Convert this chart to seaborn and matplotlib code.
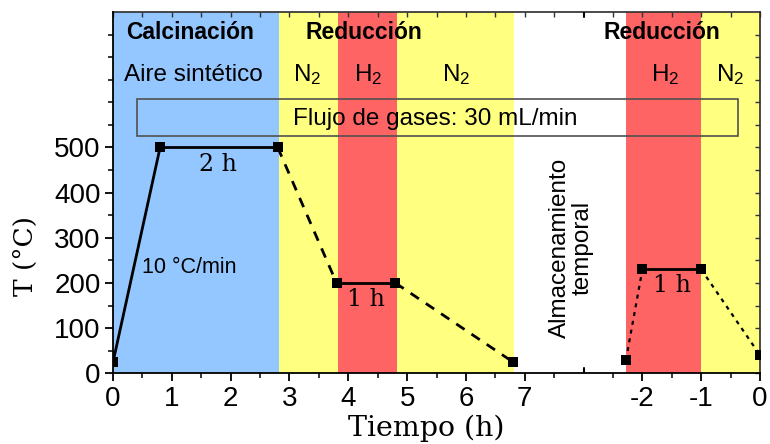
import matplotlib
matplotlib.use("Agg")
import matplotlib.pyplot as plt
import matplotlib.patches as mpatches
import seaborn as sns

# Thermal program: time (h) and temperature (°C) at each step
time_h = [0.0, 0.8, 2.8, 3.8, 4.8, 6.8, 8.72, 9.0, 10.0, 11.0]
temp_c = [25, 500, 500, 200, 200, 25, 30, 230, 230, 40]
# line style of the segment joining point i and point i+1 (None = no line)
segment_style = ["solid", "solid", "dashed", "solid", "dashed", None, "dotted", "solid", "dotted"]

# Gas atmosphere bands
band_edges = [0.0, 2.82, 3.82, 4.82, 6.82, 8.72, 10.0, 11.0]
band_colors = ["#94C6FF", "#FFFF80", "#FF6464", "#FFFF80", "#FFFFFF", "#FF6464", "#FFFF80"]

# Stage headers and gas labels
stage_labels = ["Calcinación", "Reducción", "Reducción"]
stage_x = [1.31, 4.27, 9.33]
gas_labels = ["Aire sintético", r"N$_2$", r"H$_2$", r"N$_2$", r"H$_2$", r"N$_2$"]
gas_x = [1.37, 3.30, 4.33, 5.83, 9.38, 10.50]

# Dwell annotations
dwell_labels = ["2 h", "1 h", "1 h"]
dwell_x = [1.79, 4.30, 9.51]
dwell_y = [448, 150, 180]

# Axis ticks
x_major = [0, 1, 2, 3, 4, 5, 6, 7, 9, 10, 11]
x_major_labels = ["0", "1", "2", "3", "4", "5", "6", "7", "-2", "-1", "0"]
x_minor = [0.5, 1.5, 2.5, 3.5, 4.5, 5.5, 6.5, 7.5, 8.5, 9.5, 10.5]
y_major = [0, 100, 200, 300, 400, 500]
y_minor = [50, 150, 250, 350, 450, 550, 600, 650, 700, 750]
axis_break = 8.0

sns.set_theme(style="ticks")
plt.rcParams["font.family"] = ["Liberation Sans", "DejaVu Sans"]
plt.rcParams["mathtext.fontset"] = "custom"
plt.rcParams["mathtext.rm"] = "Liberation Sans"
plt.rcParams["mathtext.it"] = "Liberation Sans"
for key in ["text.color", "axes.labelcolor", "xtick.color", "ytick.color", "axes.edgecolor"]:
    plt.rcParams[key] = "black"

fig = plt.figure(figsize=(7.7, 4.44), dpi=100)
ax = fig.add_axes([0.1468, 0.1592, 0.8403, 0.8138])
ax.set_xlim(0, 11)
ax.set_ylim(0, 800)

for (x0, x1), c in zip(zip(band_edges[:-1], band_edges[1:]), band_colors):
    ax.axvspan(x0, x1, color=c, lw=0, zorder=0)

line_styles = {
    "solid": dict(linestyle="-", lw=2.0),
    "dashed": dict(linestyle=(0, (3.6, 3.0)), lw=2.0),
    "dotted": dict(linestyle=(0, (1.8, 2.2)), lw=1.6),
}
for i, st in enumerate(segment_style):
    if st is None:
        continue
    sns.lineplot(x=time_h[i:i + 2], y=temp_c[i:i + 2], ax=ax, color="black",
                 sort=False, legend=False, zorder=3, **line_styles[st])

sns.scatterplot(x=time_h, y=temp_c, ax=ax, marker="s", s=42, color="black",
                linewidth=0, zorder=4, legend=False)

# Gas flow box
ax.add_patch(mpatches.Rectangle((0.41, 526), 10.22, 81, fill=False,
                                edgecolor="#505050", lw=1.2, zorder=2))
ax.text(5.48, 549, "Flujo de gases: 30 mL/min", ha="center", va="baseline",
        fontsize=17.5, zorder=5)

for lab, x in zip(stage_labels, stage_x):
    ax.text(x, 740, lab, ha="center", va="baseline", fontsize=16.5,
            fontweight="bold", zorder=5)
for lab, x in zip(gas_labels, gas_x):
    ax.text(x, 647, lab, ha="center", va="baseline", fontsize=17.5, zorder=5)

for lab, x, y in zip(dwell_labels, dwell_x, dwell_y):
    ax.text(x, y, lab, ha="center", va="baseline", fontsize=17,
            family="DejaVu Serif", zorder=5)

ax.text(0.49, 222, "10 °C/min", ha="left", va="baseline", fontsize=15.5, zorder=5)
ax.text(7.79, 278, "Almacenamiento\ntemporal", ha="center", va="center",
        rotation=90, multialignment="center", fontsize=17.5, linespacing=1.0,
        zorder=5)

# Ticks
ax.set_xticks(x_major)
ax.set_xticklabels(x_major_labels)
ax.set_xticks(x_minor, minor=True)
ax.set_yticks(y_major)
ax.set_yticks(y_minor, minor=True)
ax.tick_params(axis="both", which="major", direction="out", length=6, width=1.3,
               labelsize=20, pad=3, color="black", labelcolor="black")
ax.tick_params(axis="both", which="minor", direction="out", length=3.5, width=1.1,
               color="black")

top = ax.secondary_xaxis("top")
top.set_xticks(x_major)
top.set_xticks(x_minor, minor=True)
top.tick_params(which="both", direction="in", labeltop=False, length=3.5,
                width=1.0, color="#333333")
top.spines["top"].set_color("#333333")
right = ax.secondary_yaxis("right")
right.set_yticks(y_major)
right.set_yticks(y_minor, minor=True)
right.tick_params(which="both", direction="in", labelright=False, length=3.5,
                  width=1.0, color="#333333")
right.spines["right"].set_color("#333333")

# Axis break marks
ax.axvline(axis_break, ymin=0, ymax=0.014, color="black", lw=1.5, zorder=6)
ax.axvline(axis_break, ymin=0.986, ymax=1, color="black", lw=1.5, zorder=6)

for s in ["left", "bottom"]:
    ax.spines[s].set_color("black")
    ax.spines[s].set_linewidth(1.3)
for s in ["top", "right"]:
    ax.spines[s].set_visible(False)

ax.set_xlabel("Tiempo (h)", family="DejaVu Serif", fontsize=20.5, color="black")
ax.set_ylabel("T (°C)", family="DejaVu Serif", fontsize=19, color="black")
ax.xaxis.set_label_coords(0.4845, -0.113)
ax.xaxis.label.set_va("top")
ax.yaxis.set_label_coords(-0.116, 0.325)

fig.savefig("out.png", dpi=100)
